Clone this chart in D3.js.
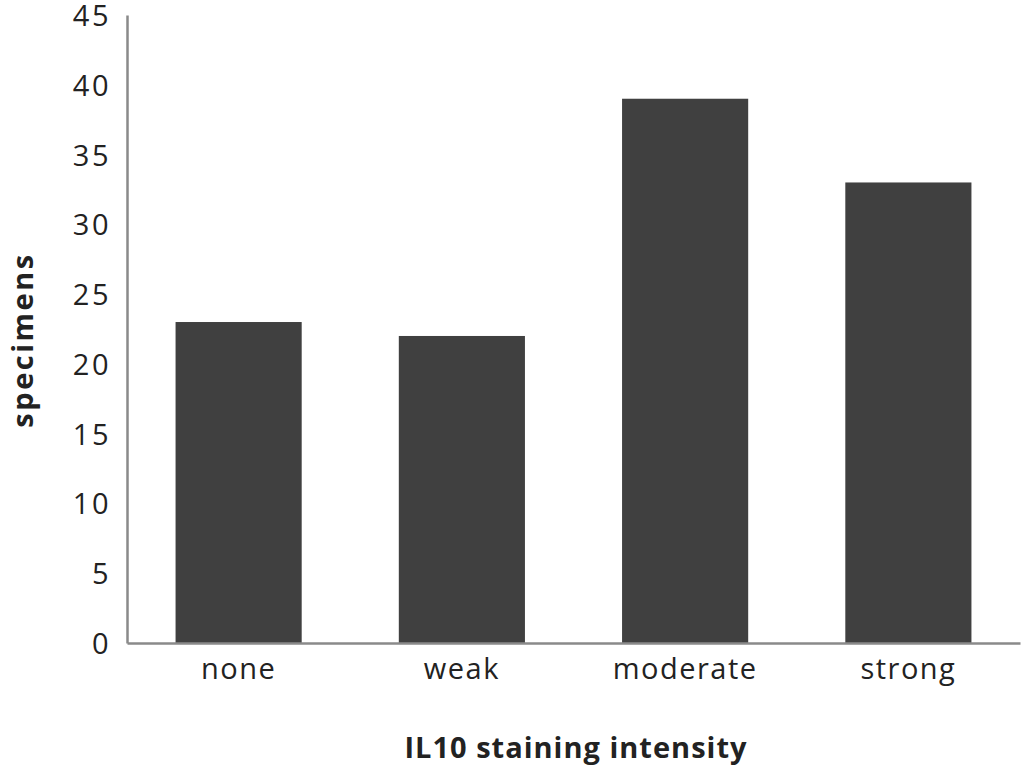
<!DOCTYPE html>
<html>
<head>
<meta charset="utf-8">
<script src="https://cdn.jsdelivr.net/npm/d3@7"></script>
<style>
  body { margin: 0; background: #fff; }
  svg text { font-family: "Open Sans", Lato, sans-serif; fill: #222; }
</style>
</head>
<body>
<div id="chart"></div>
<script>
// chart values
var categories = ["none", "weak", "moderate", "strong"];
var specimens = [23, 22, 39, 33];
var yTicks = [0, 5, 10, 15, 20, 25, 30, 35, 40, 45];

var width = 1022, height = 769;
var margin = {top: 15, right: 2, bottom: 126, left: 127};

var svg = d3.select("#chart").append("svg")
    .attr("width", width)
    .attr("height", height);

var x = d3.scaleBand()
    .domain(categories)
    .range([margin.left, width - margin.right])
    .paddingInner(0.435)
    .paddingOuter(0.2175);

var y = d3.scaleLinear()
    .domain([0, 45])
    .range([height - margin.bottom, margin.top]);

// bars
svg.append("g")
    .selectAll("rect")
    .data(specimens)
    .join("rect")
    .attr("x", function(d, i) { return x(categories[i]); })
    .attr("y", function(d) { return y(d); })
    .attr("width", x.bandwidth())
    .attr("height", function(d) { return y(0) - y(d); })
    .attr("fill", "#404040");

// y axis
var yAxis = svg.append("g")
    .attr("transform", "translate(" + margin.left + ",0)")
    .call(d3.axisLeft(y).tickValues(yTicks).tickSize(0).tickPadding(16));
yAxis.select(".domain").attr("stroke", "#8a8a8a").attr("stroke-width", 2.5);
yAxis.selectAll("text")
    .attr("font-size", 29)
    .attr("letter-spacing", 2.5)
    .attr("dy", "0.36em");

// x axis
var xAxis = svg.append("g")
    .attr("transform", "translate(0," + y(0) + ")")
    .call(d3.axisBottom(x).tickSize(0).tickPadding(15));
xAxis.select(".domain").attr("stroke", "#8a8a8a").attr("stroke-width", 2.5);
xAxis.selectAll("text")
    .attr("font-size", 29)
    .attr("letter-spacing", 1.5);

// axis titles
svg.append("text")
    .attr("x", 576)
    .attr("y", 758)
    .attr("text-anchor", "middle")
    .attr("font-size", 29)
    .attr("font-weight", "bold")
    .attr("letter-spacing", 1)
    .text("IL10 staining intensity");

svg.append("text")
    .attr("transform", "translate(33,340) rotate(-90)")
    .attr("text-anchor", "middle")
    .attr("font-size", 29)
    .attr("font-weight", "bold")
    .attr("letter-spacing", 2.5)
    .text("specimens");
</script>
</body>
</html>
